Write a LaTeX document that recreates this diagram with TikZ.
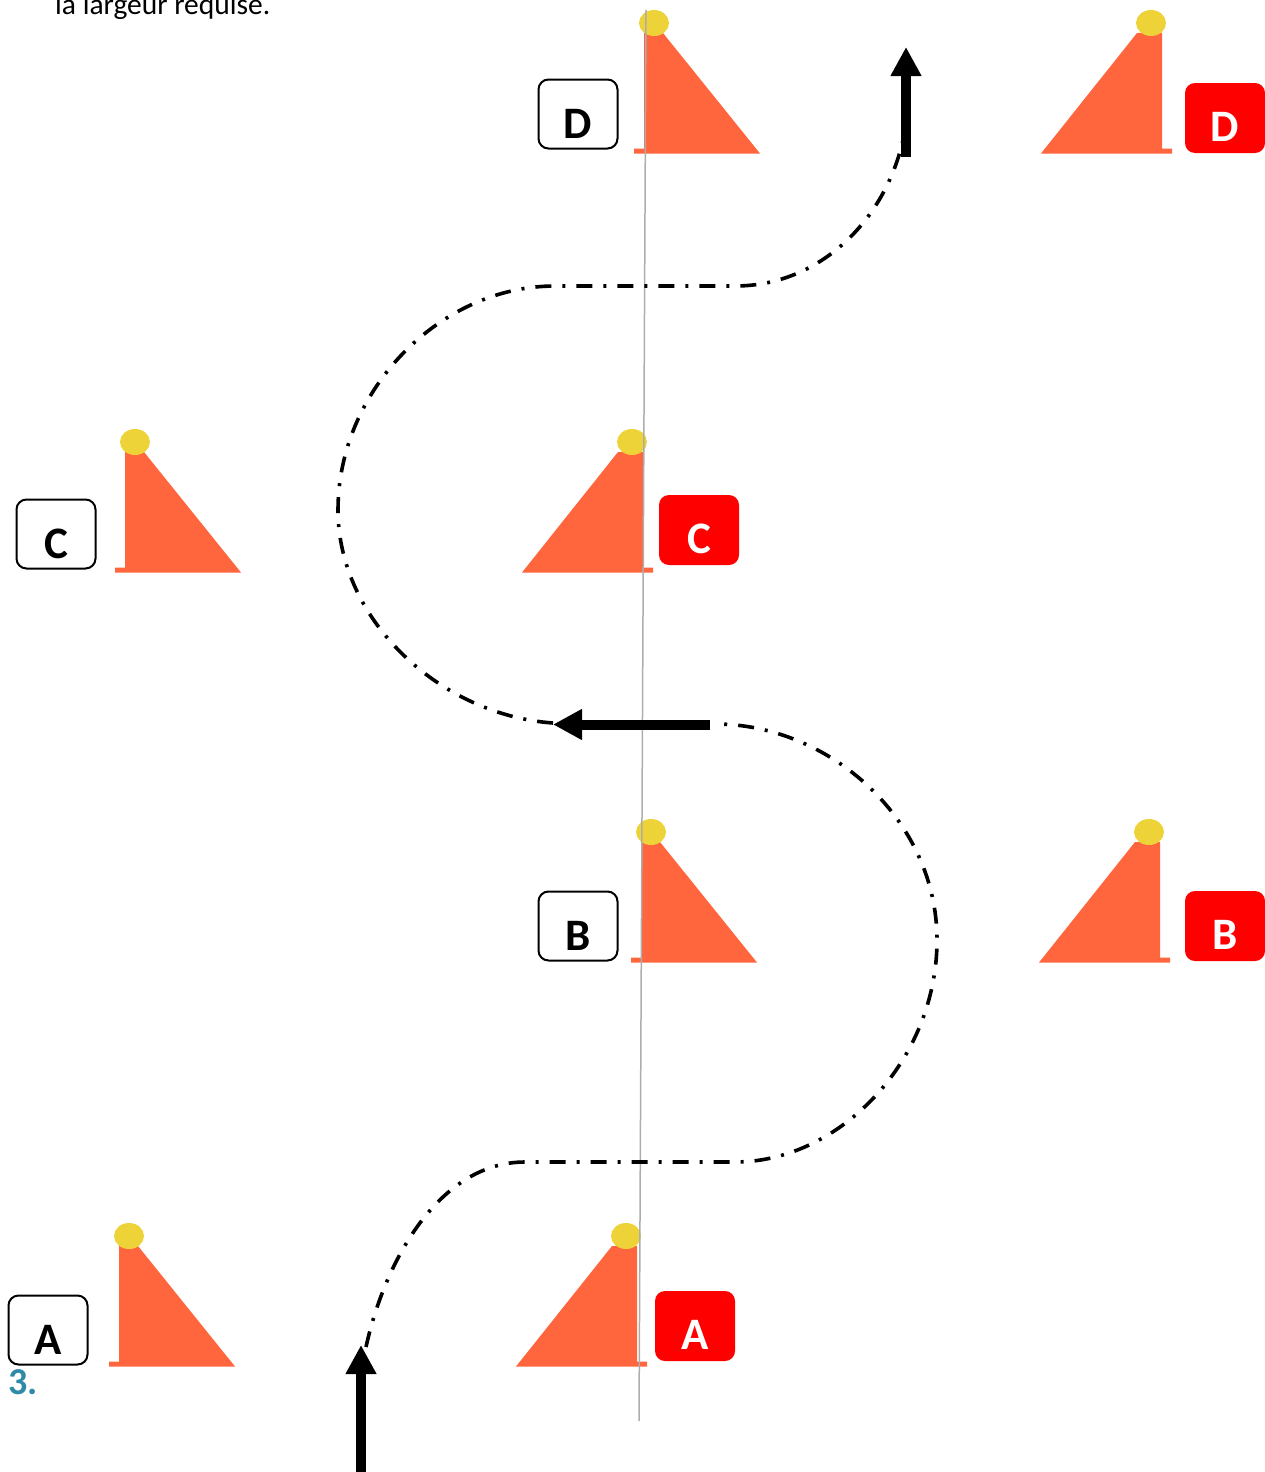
\documentclass[tikz,border=0pt]{standalone}
\usepackage{fontspec}
\setmainfont{Carlito}
\usetikzlibrary{arrows.meta}
\definecolor{conecolor}{HTML}{FF663D}
\definecolor{topcolor}{HTML}{EDD338}
\definecolor{numcolor}{HTML}{2F8AA8}

\tikzset{
  plate/.style={minimum width=79pt,minimum height=69pt,inner sep=0pt,text height=58.5pt,text depth=10.5pt,
    rounded corners=10pt,font=\fontsize{45}{45}\selectfont\bfseries},
  whiteplate/.style={plate,draw=black,line width=2pt,fill=white,text=black},
  redplate/.style={plate,minimum width=80pt,minimum height=70pt,text height=58pt,text depth=12pt,fill=red,text=white},
  route/.style={line width=3.6pt,dash pattern=on 16pt off 11pt on 3pt off 11pt},
  bigarrow/.style={line width=10pt,-{Triangle[width=29pt,length=29pt]}},
  cone left/.pic={
    \fill[conecolor] (0,0.5) -- (0,-4.5) -- (10,-4.5) -- (10,-120) -- (29,-120) -- (126,0.5) -- cycle;
    \fill[topcolor] (20,-130) ellipse [x radius=15,y radius=13];
  },
  cone right/.pic={
    \fill[conecolor] (0,0.5) -- (0,-4.5) -- (-10,-4.5) -- (-10,-120) -- (-35,-120) -- (-131,0.5) -- cycle;
    \fill[topcolor] (-21,-130) ellipse [x radius=15,y radius=13];
  }
}

\begin{document}
\begin{tikzpicture}[x=1pt,y=-1pt]
  \useasboundingbox (0,0) rectangle (1265,1472);

  % text around the figure
  \node[anchor=base west,inner sep=0pt,font=\fontsize{29.5}{29.5}\selectfont] (caption) at (55,15) {la largeur requise.};
  \node[anchor=base west,inner sep=0pt,text=numcolor,font=\fontsize{38}{38}\selectfont\bfseries] (number) at (8,1394) {3.};

  % cones, left and right of each gate
  \pic at (634,153) {cone left};
  \pic at (1172,153) {cone right};
  \pic at (115,572) {cone left};
  \pic at (653,572) {cone right};
  \pic at (631,962) {cone left};
  \pic at (1170,962) {cone right};
  \pic at (109,1366) {cone left};
  \pic at (647,1366) {cone right};

  % centre line
  \coordinate (line_top) at (646,10);
  \coordinate (line_bot) at (639,1421);
  \draw[color=black!32,line width=1.5pt] (line_top) -- (line_bot);

  % plates
  \node[whiteplate] (plate_d) at (578,114) {D};
  \node[redplate] (red_d) at (1225,118) {D};
  \node[whiteplate] (plate_c) at (56,534) {C};
  \node[redplate] (red_c) at (699,530) {C};
  \node[whiteplate] (plate_b) at (578,926) {B};
  \node[redplate] (red_b) at (1225,926) {B};
  \node[whiteplate] (plate_a) at (48,1330) {A};
  \node[redplate] (red_a) at (695,1326) {A};

  % route
  \coordinate (low_start) at (366,1347);
  \coordinate (low_left) at (525,1162);
  \coordinate (low_right) at (735,1162);
  \coordinate (low_bend) at (937,940);
  \coordinate (mid_right) at (715,724);
  \coordinate (mid_left) at (553,723);
  \coordinate (high_bend) at (338,510);
  \coordinate (high_left) at (555,286);
  \coordinate (high_right) at (735,286);
  \coordinate (high_end) at (903,140);
  \draw[route] (low_start) .. controls (385,1260) and (440,1162) .. (low_left) -- (low_right)
    .. controls (840,1162) and (937,1060) .. (low_bend)
    .. controls (937,820) and (830,724) .. (mid_right);
  \draw[route] (mid_left) .. controls (440,715) and (338,620) .. (high_bend)
    .. controls (338,390) and (440,286) .. (high_left) -- (high_right)
    .. controls (820,286) and (885,220) .. (high_end);

  % direction arrows
  \coordinate (in_tail) at (361,1472);
  \coordinate (in_tip) at (361,1345);
  \coordinate (turn_tail) at (710,724.5);
  \coordinate (turn_tip) at (553,724.5);
  \coordinate (out_tail) at (906,157);
  \coordinate (out_tip) at (906,47);
  \draw[bigarrow] (in_tail) -- (in_tip);
  \draw[bigarrow] (turn_tail) -- (turn_tip);
  \draw[bigarrow] (out_tail) -- (out_tip);
\end{tikzpicture}
\end{document}
